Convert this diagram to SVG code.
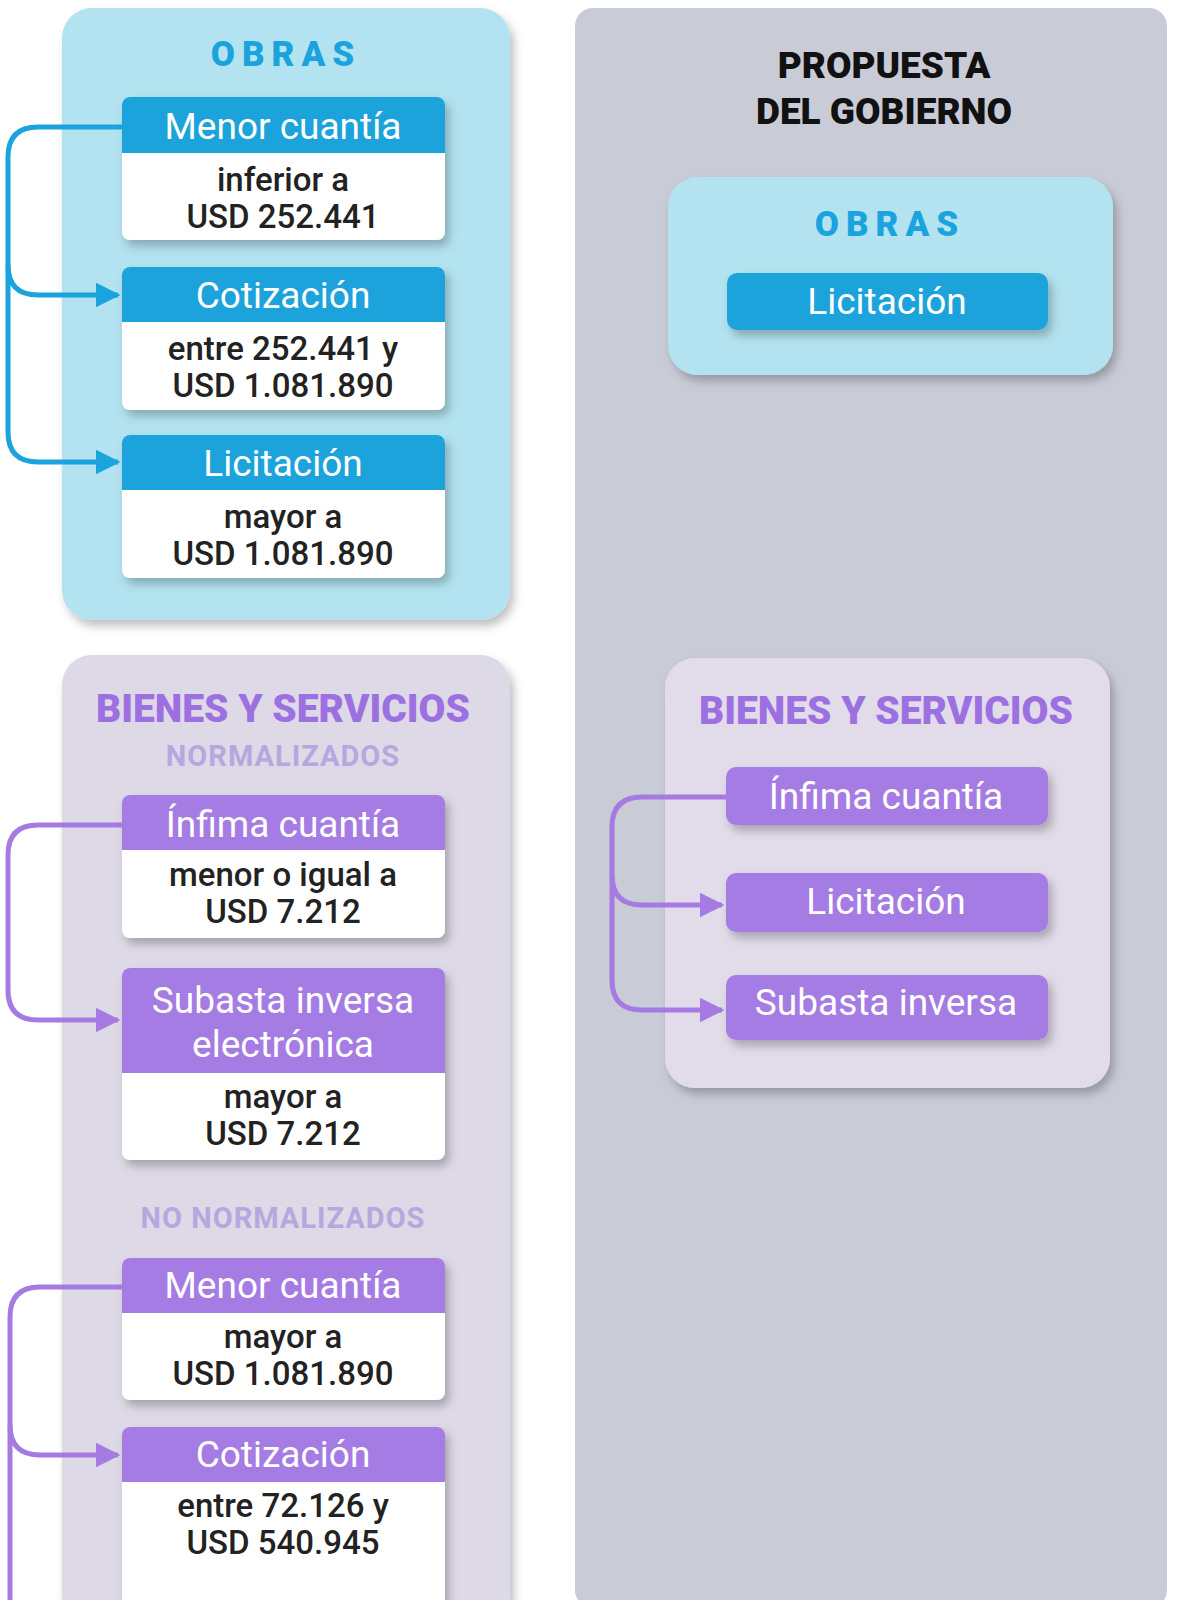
<svg xmlns="http://www.w3.org/2000/svg" width="1200" height="1600" viewBox="0 0 1200 1600">
<style>
.t{font-family:"Roboto","Liberation Sans",sans-serif;text-anchor:middle}
.h{fill:#fff;font-size:37px}
.b{fill:#222;font-size:33px;font-weight:500}
.tb{fill:#1aa3dc;font-size:35px;font-weight:900;letter-spacing:7px}
.tp{fill:#9d70e2;font-size:39px;font-weight:900}
.sp{fill:#b8a7df;font-size:29px;font-weight:700;letter-spacing:1px}
.cb{fill:#1aa3dc}.cp{fill:#a57be3}
.lb{fill:none;stroke:#1aa3dc;stroke-width:5}
.lp{fill:none;stroke:#a57be3;stroke-width:5}
</style>
<defs>
<filter id="sh" x="-10%" y="-10%" width="130%" height="140%"><feDropShadow dx="4" dy="6" stdDeviation="5" flood-opacity="0.25"/></filter>
<marker id="ab" viewBox="0 0 10 10" refX="9" refY="5" markerWidth="5" markerHeight="5" orient="auto"><path d="M0,0L10,5L0,10z" fill="#1aa3dc"/></marker>
<marker id="ap" viewBox="0 0 10 10" refX="9" refY="5" markerWidth="5" markerHeight="5" orient="auto"><path d="M0,0L10,5L0,10z" fill="#a57be3"/></marker>
</defs>
<rect width="1200" height="1600" fill="#fff"/>
<rect x="575" y="8" width="592" height="1600" rx="18" fill="#c9cbd7"/>
<rect x="62" y="8" width="448" height="612" rx="30" fill="#b3e3f0" filter="url(#sh)"/>
<rect x="62" y="655" width="448" height="970" rx="30" fill="#ddd9e6" filter="url(#sh)"/>
<text class="t" x="884" y="78" font-size="37" font-weight="900" fill="#111">PROPUESTA</text>
<text class="t" x="884" y="124" font-size="37" font-weight="900" fill="#111">DEL GOBIERNO</text>
<text class="t tb" x="286" y="66">OBRAS</text>
<g id="l_menor"><g filter="url(#sh)"><rect x="122" y="97" width="323" height="143" rx="8" fill="#fff"/><path d="M130,97h307a8,8 0 0 1 8,8v48h-323v-48a8,8 0 0 1 8,-8z" class="cb"/></g>
<text class="t h" x="283" y="139">Menor cuantía</text><text class="t b" x="283" y="191">inferior a</text><text class="t b" x="283" y="228">USD 252.441</text></g>
<g id="l_coti"><g filter="url(#sh)"><rect x="122" y="267" width="323" height="143" rx="8" fill="#fff"/><path d="M130,267h307a8,8 0 0 1 8,8v47h-323v-47a8,8 0 0 1 8,-8z" class="cb"/></g>
<text class="t h" x="283" y="308">Cotización</text><text class="t b" x="283" y="360">entre 252.441 y</text><text class="t b" x="283" y="397">USD 1.081.890</text></g>
<g id="l_lici"><g filter="url(#sh)"><rect x="122" y="435" width="323" height="143" rx="8" fill="#fff"/><path d="M130,435h307a8,8 0 0 1 8,8v47h-323v-47a8,8 0 0 1 8,-8z" class="cb"/></g>
<text class="t h" x="283" y="476">Licitación</text><text class="t b" x="283" y="528">mayor a</text><text class="t b" x="283" y="565">USD 1.081.890</text></g>
<g id="r_obras"><rect x="668" y="177" width="445" height="198" rx="30" fill="#b3e3f0" filter="url(#sh)"/>
<text class="t tb" x="890" y="236">OBRAS</text>
<rect x="727" y="273" width="321" height="57" rx="10" class="cb" filter="url(#sh)"/><text class="t h" x="887" y="314">Licitación</text></g>
<text class="t tp" x="283" y="722">BIENES Y SERVICIOS</text>
<text class="t sp" x="283" y="766">NORMALIZADOS</text>
<g id="l_infima"><g filter="url(#sh)"><rect x="122" y="795" width="323" height="143" rx="8" fill="#fff"/><path d="M130,795h307a8,8 0 0 1 8,8v47h-323v-47a8,8 0 0 1 8,-8z" class="cp"/></g>
<text class="t h" x="283" y="837">Ínfima cuantía</text><text class="t b" x="283" y="886">menor o igual a</text><text class="t b" x="283" y="923">USD 7.212</text></g>
<g id="l_subasta"><g filter="url(#sh)"><rect x="122" y="968" width="323" height="192" rx="8" fill="#fff"/><path d="M130,968h307a8,8 0 0 1 8,8v97h-323v-97a8,8 0 0 1 8,-8z" class="cp"/></g>
<text class="t h" x="283" y="1013">Subasta inversa</text><text class="t h" x="283" y="1057">electrónica</text><text class="t b" x="283" y="1108">mayor a</text><text class="t b" x="283" y="1145">USD 7.212</text></g>
<text class="t sp" x="283" y="1228">NO NORMALIZADOS</text>
<g id="l_menor2"><g filter="url(#sh)"><rect x="122" y="1258" width="323" height="142" rx="8" fill="#fff"/><path d="M130,1258h307a8,8 0 0 1 8,8v47h-323v-47a8,8 0 0 1 8,-8z" class="cp"/></g>
<text class="t h" x="283" y="1298">Menor cuantía</text><text class="t b" x="283" y="1348">mayor a</text><text class="t b" x="283" y="1385">USD 1.081.890</text></g>
<g id="l_coti2"><g filter="url(#sh)"><rect x="122" y="1427" width="323" height="190" rx="8" fill="#fff"/><path d="M130,1427h307a8,8 0 0 1 8,8v47h-323v-47a8,8 0 0 1 8,-8z" class="cp"/></g>
<text class="t h" x="283" y="1467">Cotización</text><text class="t b" x="283" y="1517">entre 72.126 y</text><text class="t b" x="283" y="1554">USD 540.945</text></g>
<g id="r_bienes"><rect x="665" y="658" width="445" height="430" rx="30" fill="#e2dcea" filter="url(#sh)"/>
<text class="t tp" x="886" y="724">BIENES Y SERVICIOS</text>
<rect x="726" y="767" width="322" height="58" rx="10" class="cp" filter="url(#sh)"/><text class="t h" x="886" y="809">Ínfima cuantía</text>
<rect x="726" y="873" width="322" height="59" rx="10" class="cp" filter="url(#sh)"/><text class="t h" x="886" y="914">Licitación</text>
<rect x="726" y="975" width="322" height="65" rx="10" class="cp" filter="url(#sh)"/><text class="t h" x="886" y="1015">Subasta inversa</text></g>
<g id="connectors">
<path class="lb" d="M122,127H38Q8,127 8,157V432Q8,462 38,462H118" marker-end="url(#ab)"/>
<path class="lb" d="M8,265Q8,295 38,295H118" marker-end="url(#ab)"/>
<path class="lp" d="M122,825H38Q8,825 8,855V990Q8,1020 38,1020H118" marker-end="url(#ap)"/>
<path class="lp" d="M122,1287H40Q10,1287 10,1317V1600"/>
<path class="lp" d="M10,1425Q10,1455 40,1455H118" marker-end="url(#ap)"/>
<path class="lp" d="M726,797H642Q612,797 612,827V980Q612,1010 642,1010H722" marker-end="url(#ap)"/>
<path class="lp" d="M612,875Q612,905 642,905H722" marker-end="url(#ap)"/>
</g>
</svg>
